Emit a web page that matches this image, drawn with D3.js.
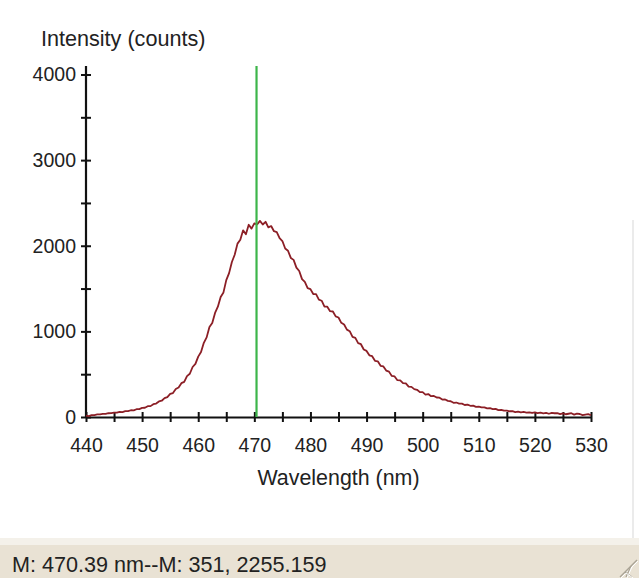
<!DOCTYPE html>
<html>
<head>
<meta charset="utf-8">
<script src="https://cdn.jsdelivr.net/npm/d3@7"></script>
<style>
  body { margin: 0; background: #fff; }
  svg { display: block; font-family: 'Liberation Sans', Arial, sans-serif; }
</style>
</head>
<body>
<div id="vis"></div>
<script>
const WIDTH = 639;
const HEIGHT = 578;

// spectrometer samples, 0.5 nm apart starting at 440 nm
const START_NM = 440;
const STEP_NM = 0.5;
const intensity = [
  16, 10, 21, 22, 30, 31, 37, 36, 44, 45,
  52, 50, 60, 58, 69, 68, 79, 77, 91, 92,
  106, 108, 126, 127, 150, 157, 182, 190, 220, 233,
  270, 280, 326, 344, 395, 410, 478, 505, 584, 620,
  705, 758, 866, 930, 1052, 1098, 1215, 1288, 1402, 1455,
  1598, 1680, 1810, 1895, 2025, 2070, 2180, 2135, 2245, 2200,
  2262, 2250, 2290, 2248, 2280, 2215, 2230, 2170, 2160, 2088,
  2055, 1968, 1942, 1858, 1835, 1745, 1705, 1610, 1578, 1505,
  1494, 1436, 1434, 1370, 1358, 1290, 1288, 1236, 1232, 1175,
  1162, 1100, 1080, 1020, 1002, 936, 924, 862, 850, 788,
  772, 720, 710, 656, 650, 598, 590, 542, 530, 480,
  474, 430, 428, 396, 392, 354, 352, 326, 318, 290,
  290, 262, 268, 243, 246, 228, 226, 204, 205, 188,
  184, 166, 169, 157, 156, 140, 144, 131, 132, 118,
  121, 112, 113, 100, 104, 93, 94, 80, 84, 74,
  75, 67, 69, 58, 63, 55, 59, 52, 55, 47,
  53, 46, 51, 43, 49, 38, 47, 44, 45, 34,
  43, 32, 38, 44, 28, 40, 35, 22, 28, 33,
  20
];

const markerNm = 470.39;
const markerText = 'M: 470.39 nm--M: 351, 2255.159';

const xTicks = [440, 445, 450, 455, 460, 465, 470, 475, 480, 485, 490, 495, 500, 505, 510, 515, 520, 525, 530];
const xLabels = [440, 450, 460, 470, 480, 490, 500, 510, 520, 530];
const yTicks = [0, 500, 1000, 1500, 2000, 2500, 3000, 3500, 4000];
const yLabels = [0, 1000, 2000, 3000, 4000];

const xTitle = 'Wavelength (nm)';
const yTitle = 'Intensity (counts)';

const spectrum = intensity.map((v, i) => ({ nm: START_NM + i * STEP_NM, v: v }));

const svg = d3.select('#vis').append('svg')
    .attr('width', WIDTH)
    .attr('height', HEIGHT);

const x = d3.scaleLinear().domain([440, 530]).range([86, 591]);
const y = d3.scaleLinear().domain([0, 4000]).range([417, 74.5]);
const yTop = 4100;

// axes
const xAxis = svg.append('g')
    .attr('transform', `translate(0,${y(0)})`)
    .call(d3.axisBottom(x)
        .tickValues(xTicks)
        .tickSize(5)
        .tickSizeOuter(0)
        .tickPadding(16)
        .tickFormat(d => xLabels.includes(d) ? d : ''));

const yAxis = svg.append('g')
    .attr('transform', `translate(${x(440)},0)`)
    .call(d3.axisLeft(y)
        .tickValues(yTicks)
        .tickSize(5)
        .tickSizeOuter(0)
        .tickPadding(5)
        .tickFormat(d => yLabels.includes(d) ? d : ''));

yAxis.select('.domain').attr('d', `M0,${y(yTop)}V${y(0)}`);

[xAxis, yAxis].forEach(g => {
    g.select('.domain').attr('stroke', '#111').attr('stroke-width', 2.2);
    g.selectAll('.tick line').attr('stroke', '#111').attr('stroke-width', 2);
    g.selectAll('.tick text').attr('fill', '#222').style('font-size', '19.5px');
});
xAxis.selectAll('.tick line').attr('y1', -5);
yAxis.selectAll('.tick line').attr('x1', 5);

// spectrum
const line = d3.line()
    .x(d => x(d.nm))
    .y(d => y(d.v));

svg.append('path')
    .datum(spectrum)
    .attr('fill', 'none')
    .attr('stroke', '#8c1f26')
    .attr('stroke-width', 1.8)
    .attr('stroke-linejoin', 'round')
    .attr('d', line);

// marker
svg.append('line')
    .attr('x1', x(markerNm)).attr('x2', x(markerNm))
    .attr('y1', y(yTop)).attr('y2', y(0))
    .attr('stroke', '#3db54a')
    .attr('stroke-width', 2.2);

// titles
svg.append('text')
    .attr('x', 41).attr('y', 46)
    .attr('fill', '#222')
    .style('font-size', '21.6px')
    .text(yTitle);

svg.append('text')
    .attr('x', (x(440) + x(530)) / 2).attr('y', 485)
    .attr('text-anchor', 'middle')
    .attr('fill', '#222')
    .style('font-size', '21.4px')
    .text(xTitle);

// window chrome
svg.append('line')
    .attr('x1', 633).attr('x2', 633)
    .attr('y1', 220).attr('y2', 538)
    .attr('stroke', '#e4e4e4')
    .attr('stroke-width', 1.5);

svg.append('rect')
    .attr('x', 0).attr('y', 538).attr('width', WIDTH).attr('height', 7)
    .attr('fill', '#f4f1ea');
svg.append('rect')
    .attr('x', 0).attr('y', 545).attr('width', WIDTH).attr('height', HEIGHT - 545)
    .attr('fill', '#e9e2d4');

svg.append('text')
    .attr('x', 12).attr('y', 572)
    .attr('fill', '#222')
    .style('font-size', '21.6px')
    .text(markerText);

const grip = svg.append('g');
[0, 6, 12].forEach(o => {
    grip.append('line')
        .attr('x1', 637 - o).attr('y1', 560 + o)
        .attr('x2', 620 + o).attr('y2', 577)
        .attr('stroke', '#a9a394').attr('stroke-width', 1.3);
    grip.append('line')
        .attr('x1', 638 - o).attr('y1', 561 + o)
        .attr('x2', 621 + o).attr('y2', 578)
        .attr('stroke', '#fff').attr('stroke-width', 1);
});
</script>
</body>
</html>
